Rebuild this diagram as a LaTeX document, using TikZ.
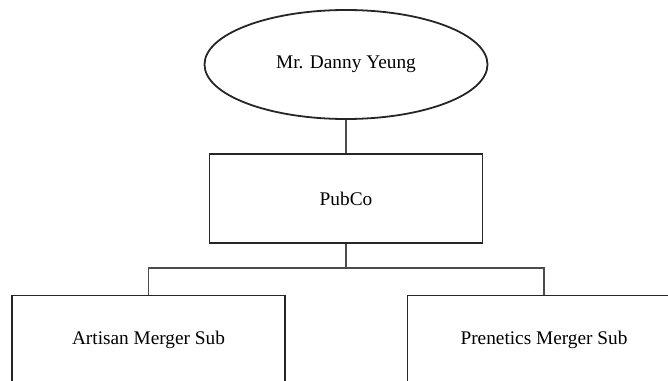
\documentclass[tikz,border=0pt]{standalone}
\usepackage{fontspec}
\setmainfont{Liberation Serif}
\usetikzlibrary{shapes.geometric}
\tikzset{
  entity/.style={draw=black!85, line width=1.8pt, rectangle, minimum width=273pt, minimum height=89pt, inner sep=0pt, font=\fontsize{19.3pt}{22pt}\selectfont},
  person/.style={draw=black!85, line width=1.8pt, ellipse, minimum width=283pt, minimum height=109pt, inner sep=0pt, font=\fontsize{19.3pt}{22pt}\selectfont},
  link/.style={draw=black!70, line width=1.2pt}
}
\begin{document}
\begin{tikzpicture}[x=1pt,y=-1pt]
\useasboundingbox (0,0) rectangle (668,380);
\clip (0,0) rectangle (668,380);
\node[person] (danny) at (346,64.5) {Mr. Danny Yeung};
\node[entity] (pubco) at (346,198.5) {PubCo};
\node[entity] (artisan) at (148.5,340) {Artisan Merger Sub};
\node[entity] (prenetics) at (544,340) {Prenetics Merger Sub};
\coordinate (bus) at (346,268);
\draw[link] (danny.south) -- (pubco.north);
\draw[link] (pubco.south) -- (bus);
\draw[link] (artisan.north) -- (artisan.north |- bus) -- (prenetics.north |- bus) -- (prenetics.north);
\end{tikzpicture}
\end{document}
